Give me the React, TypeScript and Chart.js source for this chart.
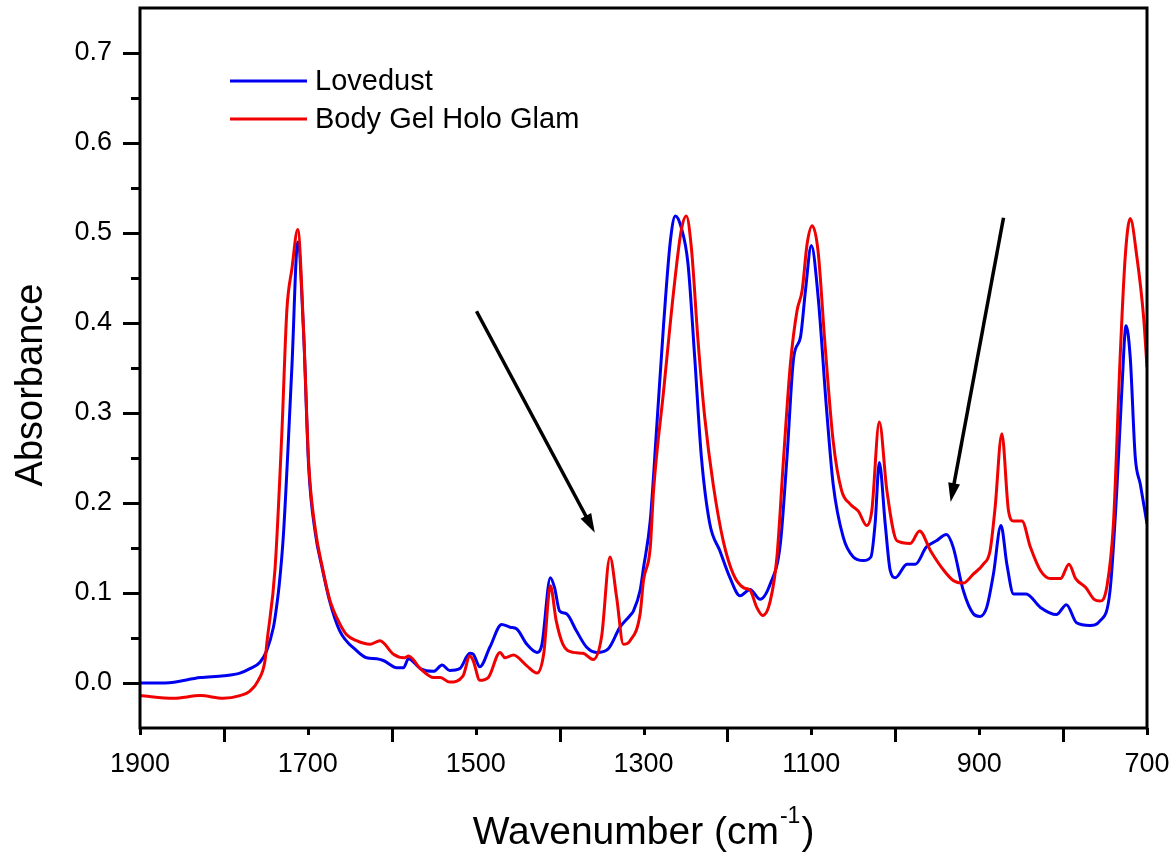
import React, { useEffect, useRef } from 'react';
import { Chart, registerables } from 'chart.js';

Chart.register(...registerables);

// ---------- data ----------
const seriesNames = ['Lovedust', 'Body Gel Holo Glam'];
const seriesColors = ['#0000F0', '#F00000'];

const lovedustWavenumber = [
  1900, 1870, 1828, 1800, 1781, 1769, 1757, 1749, 1741, 1739, 1734, 1729, 1719, 1712, 1705, 1699,
  1691, 1683, 1674, 1662, 1642, 1630, 1618, 1610, 1594, 1586, 1580, 1566, 1550, 1540, 1531, 1519,
  1507, 1503, 1495, 1483, 1469, 1459, 1451, 1439, 1427, 1421, 1411, 1406, 1400, 1392, 1380, 1368,
  1356, 1342, 1328, 1316, 1312, 1304, 1300, 1292, 1284, 1276, 1268, 1262, 1255, 1247, 1239, 1231,
  1221, 1209, 1197, 1185, 1173, 1161, 1149, 1137, 1129, 1121, 1113, 1107, 1100, 1092, 1082, 1074,
  1062, 1050, 1038, 1029, 1024, 1019, 1012, 1006, 1000, 986, 976, 963, 951, 939, 931, 919, 907,
  899, 891, 883, 874, 867, 859, 844, 827, 808, 796, 784, 768, 756, 744, 736, 730, 725, 720, 714,
  708, 700,
];
const lovedustAbsorbance = [
  0.0, 0.0, 0.006, 0.008, 0.011, 0.016, 0.023, 0.036, 0.062, 0.073, 0.11, 0.166, 0.351, 0.49, 0.388, 0.24,
  0.166, 0.128, 0.091, 0.058, 0.036, 0.028, 0.027, 0.025, 0.017, 0.017, 0.027, 0.016, 0.013, 0.02, 0.014, 0.016,
  0.033, 0.032, 0.018, 0.04, 0.065, 0.062, 0.06, 0.043, 0.034, 0.043, 0.117, 0.106, 0.08, 0.077, 0.058, 0.04,
  0.034, 0.038, 0.062, 0.075, 0.08, 0.103, 0.128, 0.18, 0.288, 0.399, 0.491, 0.519, 0.506, 0.466, 0.362, 0.251,
  0.177, 0.147, 0.117, 0.097, 0.104, 0.093, 0.11, 0.154, 0.251, 0.362, 0.384, 0.436, 0.486, 0.43, 0.306, 0.221,
  0.162, 0.14, 0.136, 0.14, 0.177, 0.245, 0.177, 0.125, 0.117, 0.132, 0.132, 0.151, 0.158, 0.165, 0.151, 0.103, 0.077,
  0.074, 0.084, 0.121, 0.175, 0.132, 0.099, 0.099, 0.084, 0.076, 0.087, 0.067, 0.064, 0.069, 0.103, 0.214, 0.325, 0.397, 0.362, 0.251,
  0.221, 0.177,
];

const holoGlamWavenumber = [
  1900, 1860, 1828, 1801, 1781, 1769, 1759, 1751, 1749, 1739, 1731, 1725, 1719, 1712, 1705, 1699,
  1691, 1683, 1674, 1662, 1654, 1642, 1626, 1614, 1598, 1585, 1580, 1566, 1550, 1542, 1531, 1515,
  1507, 1503, 1495, 1485, 1471, 1465, 1455, 1439, 1427, 1419, 1411, 1404, 1396, 1384, 1372, 1360,
  1350, 1340, 1332, 1324, 1316, 1304, 1300, 1292, 1288, 1276, 1264, 1255, 1249, 1243, 1235, 1227,
  1217, 1205, 1193, 1181, 1173, 1165, 1158, 1149, 1141, 1133, 1125, 1117, 1111, 1105, 1099, 1092,
  1084, 1074, 1064, 1054, 1044, 1034, 1028, 1019, 1010, 998, 982, 971, 958, 942, 931, 919, 907,
  895, 887, 881, 873, 865, 859, 849, 839, 827, 815, 803, 793, 785, 773, 763, 756, 748, 740, 732,
  726, 720, 712, 704, 700,
];
const holoGlamAbsorbance = [
  -0.014, -0.017, -0.014, -0.017, -0.014, -0.009, 0.003, 0.025, 0.043, 0.128, 0.277, 0.414, 0.46, 0.504, 0.39, 0.245,
  0.17, 0.13, 0.093, 0.066, 0.054, 0.047, 0.043, 0.047, 0.032, 0.028, 0.03, 0.016, 0.006, 0.006, 0.001, 0.008,
  0.03, 0.025, 0.003, 0.006, 0.034, 0.028, 0.031, 0.019, 0.011, 0.032, 0.108, 0.069, 0.043, 0.034, 0.033, 0.026,
  0.051, 0.14, 0.095, 0.043, 0.047, 0.077, 0.114, 0.15, 0.214, 0.325, 0.436, 0.503, 0.519, 0.484, 0.38, 0.295,
  0.221, 0.158, 0.121, 0.106, 0.103, 0.084, 0.075, 0.091, 0.14, 0.251, 0.354, 0.414, 0.436, 0.488, 0.508, 0.48,
  0.38, 0.269, 0.214, 0.199, 0.191, 0.175, 0.191, 0.29, 0.214, 0.158, 0.155, 0.169, 0.147, 0.125, 0.114, 0.111, 0.121,
  0.132, 0.147, 0.195, 0.277, 0.191, 0.18, 0.18, 0.151, 0.125, 0.116, 0.116, 0.132, 0.116, 0.106, 0.093, 0.091, 0.106, 0.177, 0.362,
  0.473, 0.516, 0.473, 0.406, 0.351,
];

const xTickValues = [1900, 1700, 1500, 1300, 1100, 900, 700];
const yTickValues = [0.0, 0.1, 0.2, 0.3, 0.4, 0.5, 0.6, 0.7];
const xMinorStep = 100;
const yMinorStep = 0.05;

// arrow annotations [wavenumber, absorbance]
const arrowFrom = [[1499, 0.413], [871, 0.517]];
const arrowTo = [[1358, 0.167], [934, 0.201]];

const xTitle = 'Wavenumber (cm';
const xTitleSup = '-1';
const yTitle = 'Absorbance';

const FONT = "'Liberation Sans', Arial, sans-serif";

const toPoints = (xs: number[], ys: number[]) => xs.map((x, i) => ({ x, y: ys[i] }));

const decorPlugin = {
  id: 'decor',
  afterDatasetsDraw(chart: any) {
    const { ctx, chartArea: a, scales } = chart;
    const xs = scales.x;
    const ys = scales.y;
    ctx.save();
    ctx.strokeStyle = '#000';
    ctx.fillStyle = '#000';
    ctx.lineCap = 'butt';

    // axis ticks (outward) on left and bottom
    ctx.lineWidth = 3;
    const yMin = ys.min, yMax = ys.max;
    for (let k = Math.round(yMin / yMinorStep); k * yMinorStep <= yMax + 1e-9; k++) {
      const v = k * yMinorStep;
      if (v <= yMin + 1e-9 || v >= yMax - 1e-9) continue;
      const major = k % 2 === 0;
      const py = Math.round(ys.getPixelForValue(v)) + 0.5;
      ctx.beginPath();
      ctx.moveTo(a.left, py);
      ctx.lineTo(a.left - (major ? 17 : 9), py);
      ctx.stroke();
    }
    for (let v = xs.min; v <= xs.max + 1e-9; v += xMinorStep) {
      const major = Math.round(v) % 200 !== 100;
      const px = Math.round(xs.getPixelForValue(v)) + 0.5;
      ctx.beginPath();
      ctx.moveTo(px, a.bottom);
      ctx.lineTo(px, a.bottom + (major ? 14 : 7));
      ctx.stroke();
    }

    // frame
    ctx.lineWidth = 3;
    ctx.strokeRect(a.left, a.top, a.right - a.left, a.bottom - a.top);

    // arrows
    for (let i = 0; i < arrowFrom.length; i++) {
      const x0 = xs.getPixelForValue(arrowFrom[i][0]);
      const y0 = ys.getPixelForValue(arrowFrom[i][1]);
      const x1 = xs.getPixelForValue(arrowTo[i][0]);
      const y1 = ys.getPixelForValue(arrowTo[i][1]);
      const ang = Math.atan2(y1 - y0, x1 - x0);
      const headLen = 19, headHalf = 6;
      const bx = x1 - headLen * Math.cos(ang);
      const by = y1 - headLen * Math.sin(ang);
      ctx.lineWidth = 3.5;
      ctx.beginPath();
      ctx.moveTo(x0, y0);
      ctx.lineTo(bx + 2 * Math.cos(ang), by + 2 * Math.sin(ang));
      ctx.stroke();
      ctx.beginPath();
      ctx.moveTo(x1, y1);
      ctx.lineTo(bx + headHalf * Math.sin(ang), by - headHalf * Math.cos(ang));
      ctx.lineTo(bx - headHalf * Math.sin(ang), by + headHalf * Math.cos(ang));
      ctx.closePath();
      ctx.fill();
    }

    // legend
    const legendY = [81, 119];
    for (let i = 0; i < seriesNames.length; i++) {
      ctx.strokeStyle = seriesColors[i];
      ctx.lineWidth = 3;
      ctx.beginPath();
      ctx.moveTo(230, legendY[i]);
      ctx.lineTo(307, legendY[i]);
      ctx.stroke();
      ctx.fillStyle = '#000';
      ctx.font = `29px ${FONT}`;
      ctx.textAlign = 'left';
      ctx.textBaseline = 'middle';
      ctx.fillText(seriesNames[i], 315, legendY[i] + 1);
    }

    // x title with superscript
    ctx.fillStyle = '#000';
    ctx.textBaseline = 'alphabetic';
    ctx.textAlign = 'left';
    const mainFont = `39px ${FONT}`;
    const supFont = `23px ${FONT}`;
    ctx.font = mainFont;
    const w1 = ctx.measureText(xTitle).width;
    const w3 = ctx.measureText(')').width;
    ctx.font = supFont;
    const w2 = ctx.measureText(xTitleSup).width;
    const total = w1 + w2 + 2 + w3;
    const cx = (a.left + a.right) / 2;
    let tx = cx - total / 2;
    const baseY = 844;
    ctx.font = mainFont;
    ctx.fillText(xTitle, tx, baseY);
    tx += w1 + 1;
    ctx.font = supFont;
    ctx.fillText(xTitleSup, tx, baseY - 21);
    tx += w2 + 1;
    ctx.font = mainFont;
    ctx.fillText(')', tx, baseY);

    // y title
    ctx.save();
    ctx.translate(42, 385);
    ctx.rotate(-Math.PI / 2);
    ctx.textAlign = 'center';
    ctx.font = `38px ${FONT}`;
    ctx.fillText(yTitle, 0, 0);
    ctx.restore();

    ctx.restore();
  },
};

export default function App() {
  const canvasRef = useRef<HTMLCanvasElement | null>(null);

  useEffect(() => {
    const canvas = canvasRef.current;
    if (!canvas) return;
    const lineCommon = {
      showLine: true,
      pointRadius: 0,
      borderWidth: 3,
      cubicInterpolationMode: 'monotone' as const,
      borderJoinStyle: 'round' as const,
    };
    const chart = new Chart(canvas, {
      type: 'scatter',
      data: {
        datasets: [
          {
            ...lineCommon,
            label: seriesNames[0],
            data: toPoints(lovedustWavenumber, lovedustAbsorbance),
            borderColor: seriesColors[0],
            backgroundColor: seriesColors[0],
            order: 1,
          },
          {
            ...lineCommon,
            label: seriesNames[1],
            data: toPoints(holoGlamWavenumber, holoGlamAbsorbance),
            borderColor: seriesColors[1],
            backgroundColor: seriesColors[1],
            order: 0,
          },
        ],
      },
      options: {
        responsive: false,
        animation: false,
        layout: { padding: { left: 0, right: 27, top: 8, bottom: 0 } },
        plugins: { legend: { display: false }, tooltip: { enabled: false } },
        scales: {
          x: {
            type: 'linear',
            reverse: true,
            min: 700,
            max: 1900,
            border: { display: false },
            grid: { display: false, drawTicks: false },
            afterBuildTicks: (s: any) => {
              s.ticks = xTickValues.map((v) => ({ value: v }));
            },
            afterFit: (s: any) => {
              s.height = 124;
              s.paddingLeft = 0;
              s.paddingRight = 0;
            },
            ticks: {
              padding: 20,
              color: '#000',
              font: { family: FONT, size: 27 },
              maxRotation: 0,
              autoSkip: false,
              callback: (v: any) => String(v),
            },
          },
          y: {
            type: 'linear',
            min: -0.05,
            max: 0.75,
            border: { display: false },
            grid: { display: false, drawTicks: false },
            afterBuildTicks: (s: any) => {
              s.ticks = yTickValues.map((v) => ({ value: v }));
            },
            afterFit: (s: any) => {
              s.width = 140;
              s.paddingTop = 0;
              s.paddingBottom = 0;
            },
            ticks: {
              padding: 28,
              color: '#000',
              font: { family: FONT, size: 27 },
              autoSkip: false,
              callback: (v: any) => Number(v).toFixed(1),
            },
          },
        },
      },
      plugins: [decorPlugin],
    });
    return () => chart.destroy();
  }, []);

  return (
    <div style={{ position: 'absolute', left: 0, top: 0, width: 1174, height: 852, background: '#fff' }}>
      <canvas ref={canvasRef} width={1174} height={852} />
    </div>
  );
}
